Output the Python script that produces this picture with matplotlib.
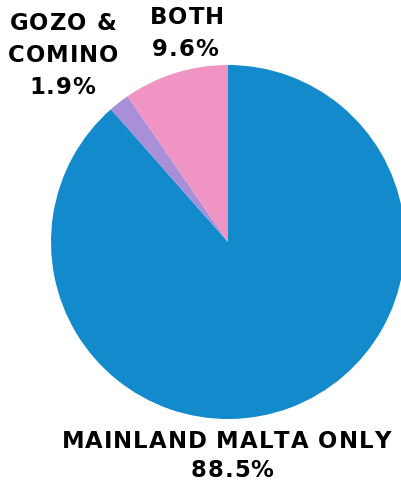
import matplotlib.pyplot as plt
from matplotlib.font_manager import FontProperties, findfont, get_font

# Share of respondents by island
labels = ["MAINLAND MALTA ONLY", "GOZO &\nCOMINO", "BOTH"]
shares = [88.5, 1.9, 9.6]
colors = ["#128ACC", "#A98FD8", "#F095C3"]

W, H = 402, 492
DPI = 100
FONT_PT = 16.4
TRACK = 1.0  # extra pixels between letters

fig = plt.figure(figsize=(W / DPI, H / DPI), dpi=DPI)
ax = fig.add_axes([0, 0, 1, 1])

# Pie in pixel coordinates (y up), starting at 12 o'clock, clockwise
ax.pie(shares, colors=colors, startangle=90, counterclock=False,
       center=(228, H - 242), radius=177, frame=True,
       wedgeprops={"linewidth": 0})

ax.set_xlim(0, W)
ax.set_ylim(0, H)
ax.set_aspect("auto")
ax.axis("off")

prop = FontProperties(family="DejaVu Sans", weight="bold", size=FONT_PT)
ft = get_font(findfont(prop))
ft.set_size(FONT_PT, DPI)


def advance(ch):
    glyph = ft.load_char(ord(ch))
    return glyph.linearHoriAdvance / 65536


def tracked_line(s, cx, baseline):
    # letter-spaced text, centred on cx, baseline given in pixels from top
    widths = [advance(c) for c in s]
    total = sum(widths) + TRACK * (len(s) - 1)
    x = cx - total / 2
    for c, w in zip(s, widths):
        ax.text(x, H - baseline, c, ha="left", va="baseline",
                fontproperties=prop, color="black")
        x += w + TRACK


def label_block(text, lines):
    for s, (cx, base) in zip(text.split("\n"), lines):
        tracked_line(s, cx, base)


label_block(f"{labels[0]}\n{shares[0]}%", [(226, 448), (232, 477)])
label_block(f"{labels[1]}\n{shares[1]}%", [(63, 29.5), (63, 62), (62, 94)])
label_block(f"{labels[2]}\n{shares[2]}%", [(187, 24), (185, 56)])

fig.savefig("out.png", dpi=DPI)
plt.close(fig)
